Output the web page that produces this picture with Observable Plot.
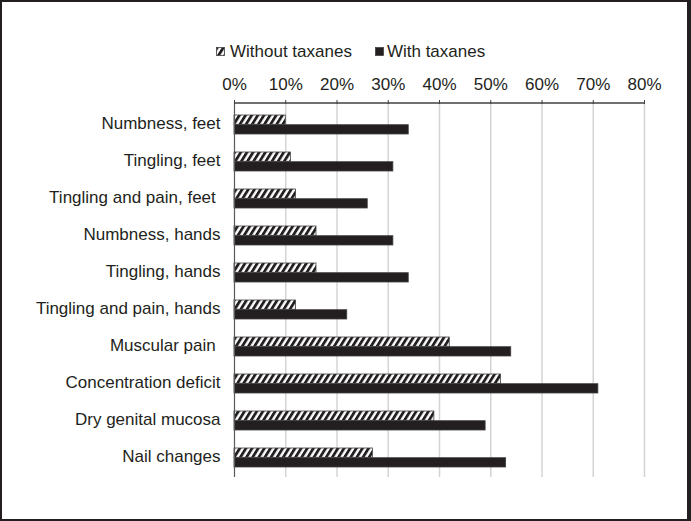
<!DOCTYPE html>
<html>
<head>
<meta charset="utf-8">
<script src="https://cdn.jsdelivr.net/npm/d3@7"></script>
<script src="https://cdn.jsdelivr.net/npm/@observablehq/plot@0.6"></script>
<style>
  html, body { margin: 0; padding: 0; background: #fff; }
  #wrap {
    position: relative; width: 691px; height: 521px; box-sizing: border-box;
    border-style: solid; border-color: #231f20;
    border-width: 2px 4px 2px 2px; background: #fff; overflow: hidden;
    font-family: "Liberation Sans", Arial, sans-serif; color: #231f20;
  }
  #legend {
    position: absolute; top: 41px; left: 214px; display: flex; align-items: center;
    font-size: 17px; line-height: 17px; white-space: nowrap;
  }
  #legend .item { display: flex; align-items: center; }
  #legend svg { display: block; margin-right: 5px; }
  #chart { position: absolute; top: 0; left: 0; }
</style>
</head>
<body>
<svg width="0" height="0" style="position:absolute">
  <defs>
    <pattern id="hatch" patternUnits="userSpaceOnUse" width="5.2" height="5.2" patternTransform="rotate(32)">
      <rect x="0" y="0" width="5.2" height="5.2" fill="#fff"></rect>
      <rect x="0" y="0" width="2.8" height="5.2" fill="#231f20"></rect>
    </pattern>
  </defs>
</svg>
<div id="wrap">
  <div id="legend"></div>
  <div id="chart"></div>
</div>
<script>
const categories = [
  "Numbness, feet",
  "Tingling, feet",
  "Tingling and pain, feet ",
  "Numbness, hands",
  "Tingling, hands",
  "Tingling and pain, hands",
  "Muscular pain ",
  "Concentration deficit",
  "Dry genital mucosa",
  "Nail changes"
];
const seriesNames = ["Without taxanes", "With taxanes"];
const withoutTaxanes = [10, 11, 12, 16, 16, 12, 42, 52, 39, 27];
const withTaxanes = [34, 31, 26, 31, 34, 22, 54, 71, 49, 53];
const xTicks = [0, 10, 20, 30, 40, 50, 60, 70, 80];

const rowsWithout = categories.map((c, i) => ({category: c, value: withoutTaxanes[i]}));
const rowsWith = categories.map((c, i) => ({category: c, value: withTaxanes[i]}));

const ink = "#231f20";
const marginTop = 101;

const chart = Plot.plot({
  width: 685,
  height: 517,
  marginTop,
  marginBottom: 42,
  marginLeft: 232,
  marginRight: 43,
  style: {
    fontFamily: "'Liberation Sans', Arial, sans-serif",
    fontSize: "17px",
    color: ink,
    background: "transparent",
    overflow: "visible"
  },
  x: {domain: [0, 80], axis: null, label: null},
  y: {domain: categories, padding: 0, axis: null, label: null},
  marks: [
    Plot.gridX(xTicks.filter(d => d > 0), {stroke: "#d4d4d4", strokeOpacity: 1, strokeWidth: 1.5}),
    Plot.barX(rowsWithout, {
      x: "value", y: "category", fill: "url(#hatch)",
      stroke: "#404040", strokeWidth: 0.8, insetTop: 10, insetBottom: 17.7
    }),
    Plot.barX(rowsWith, {
      x: "value", y: "category", fill: ink,
      stroke: "#404040", strokeWidth: 0.8, insetTop: 19.7, insetBottom: 8
    }),
    Plot.ruleX([0], {stroke: "#595959", strokeWidth: 1.2}),
    Plot.axisX({
      anchor: "top", ticks: xTicks, tickSize: 4, tickPadding: 10, label: null,
      tickFormat: d => d + "%", stroke: "#404040", fill: ink
    }),
    Plot.axisY({
      anchor: "left", tickSize: 0, tickPadding: 14, fill: ink, label: null,
      tickFormat: d => d.replace(/ $/, "\u00a0")
    })
  ]
});

// top axis domain line, placed with the plot's own x scale
const xs = chart.scale("x");
d3.select(chart).append("line")
  .attr("x1", xs.apply(xTicks[0]))
  .attr("x2", xs.apply(xTicks[xTicks.length - 1]))
  .attr("y1", marginTop)
  .attr("y2", marginTop)
  .attr("stroke", "#404040")
  .attr("stroke-width", 1.3);

document.getElementById("chart").appendChild(chart);

// legend
const legend = document.getElementById("legend");
seriesNames.forEach((name, i) => {
  const item = document.createElement("div");
  item.className = "item";
  if (i > 0) item.style.marginLeft = "23px";
  const fill = i === 0 ? "url(#hatch)" : ink;
  item.innerHTML = `<svg width="9" height="9"><rect x="0.5" y="0.5" width="8" height="8" fill="${fill}" stroke="#404040" stroke-width="0.8"></rect></svg><span>${name}</span>`;
  if (i > 0) item.querySelector("svg").style.marginRight = "3px";
  legend.appendChild(item);
});
</script>
</body>
</html>
